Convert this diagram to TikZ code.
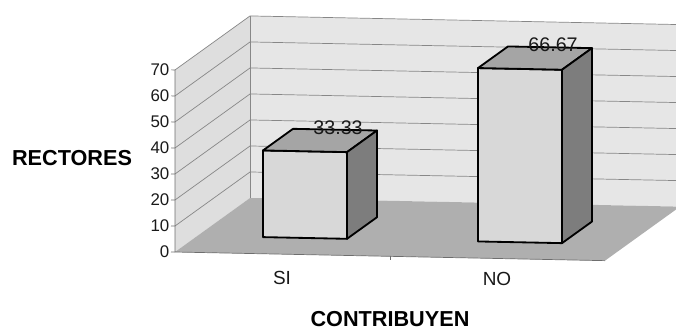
\documentclass[tikz,border=0pt]{standalone}
\usepackage{fontspec}
\setmainfont{Liberation Sans}
\usetikzlibrary{positioning}
\definecolor{wallgray}{RGB}{230,230,230}
\definecolor{sidegray}{RGB}{222,222,222}
\definecolor{floorgray}{RGB}{175,175,175}
\definecolor{gridgray}{RGB}{135,135,135}
\definecolor{axisgray}{RGB}{110,110,110}
\definecolor{barfront}{RGB}{216,216,216}
\definecolor{bartop}{RGB}{165,165,165}
\definecolor{barside}{RGB}{125,125,125}

\begin{document}
\begin{tikzpicture}[x=0.025cm, y=-0.025cm,
        every node/.style={inner sep=1pt, text=black!90},
        tickLabel/.style={anchor=east, font=\fontsize{12}{13}\selectfont},
        catLabel/.style={font=\fontsize{13.5}{14}\selectfont},
        axisTitle/.style={font=\fontsize{15.4}{16}\selectfont\bfseries, text=black},
        valueLabel/.style={font=\fontsize{14}{15}\selectfont},
        barEdge/.style={draw=black, line width=1.3pt, line join=round}]

    \useasboundingbox (0,0) rectangle (676,329);

    % Chart: u along the categories, v the values, d the depth
    \begin{scope}[shift={(175,252)}, x={(0.025cm,-0.0005cm)}, y={(0cm,0.065cm)}, z={(1.875cm,1.35cm)}]

        % Walls and floor
        \fill[sidegray] (0,0,0) -- (0,70,0) -- (0,70,1) -- (0,0,1) -- cycle;
        \fill[wallgray] (0,0,1) -- (0,70,1) -- (430,70,1) -- (430,0,1) -- cycle;
        \fill[floorgray] (0,0,0) -- (430,0,0) -- (430,0,1) -- (0,0,1) -- cycle;

        % Grid lines
        \foreach \v in {10,20,...,70}
            \draw[gridgray, line width=0.5pt] (0,\v,0) -- (0,\v,1) -- (430,\v,1);
        \draw[gridgray, line width=0.4pt] (0,0,1) -- (0,70,1);

        % Axes
        \draw[axisgray, line width=0.5pt] (0,70,0) -- (0,0,0) -- (430,0,0);
        \draw[axisgray, line width=0.5pt] (215,0,0) -- (215,-1.5,0);
        \foreach \v in {0,10,...,70} {
            \draw[axisgray, line width=0.5pt] (-4,\v,0) -- (0,\v,0);
            \node[tickLabel] (yTick\v) at (-4,\v,0) {\v};
        }

        % SI bar
        \filldraw[barEdge, fill=barfront] (65.5,0,0.3) -- (65.5,33.33,0.3) -- (149.5,33.33,0.3) -- (149.5,0,0.3) -- cycle;
        \filldraw[barEdge, fill=bartop] (65.5,33.33,0.3) -- (65.5,33.33,0.7) -- (149.5,33.33,0.7) -- (149.5,33.33,0.3) -- cycle;
        \filldraw[barEdge, fill=barside] (149.5,0,0.3) -- (149.5,33.33,0.3) -- (149.5,33.33,0.7) -- (149.5,0,0.7) -- cycle;
        \node[valueLabel] (siValue) at (107.5,33.33,0.74) {33.33};

        % NO bar
        \filldraw[barEdge, fill=barfront] (280.5,0,0.3) -- (280.5,66.67,0.3) -- (364.5,66.67,0.3) -- (364.5,0,0.3) -- cycle;
        \filldraw[barEdge, fill=bartop] (280.5,66.67,0.3) -- (280.5,66.67,0.7) -- (364.5,66.67,0.7) -- (364.5,66.67,0.3) -- cycle;
        \filldraw[barEdge, fill=barside] (364.5,0,0.3) -- (364.5,66.67,0.3) -- (364.5,66.67,0.7) -- (364.5,0,0.7) -- cycle;
        \node[valueLabel] (noValue) at (322.5,66.67,0.74) {66.67};

    \end{scope}

    % Labels
    \node[catLabel] (siLabel) at (282,278) {SI};
    \node[catLabel] (noLabel) at (497,279) {NO};
    \node[axisTitle] (rectoresTitle) at (72,158) {RECTORES};
    \node[axisTitle] (contribuyenTitle) at (390,319) {CONTRIBUYEN};

\end{tikzpicture}
\end{document}
